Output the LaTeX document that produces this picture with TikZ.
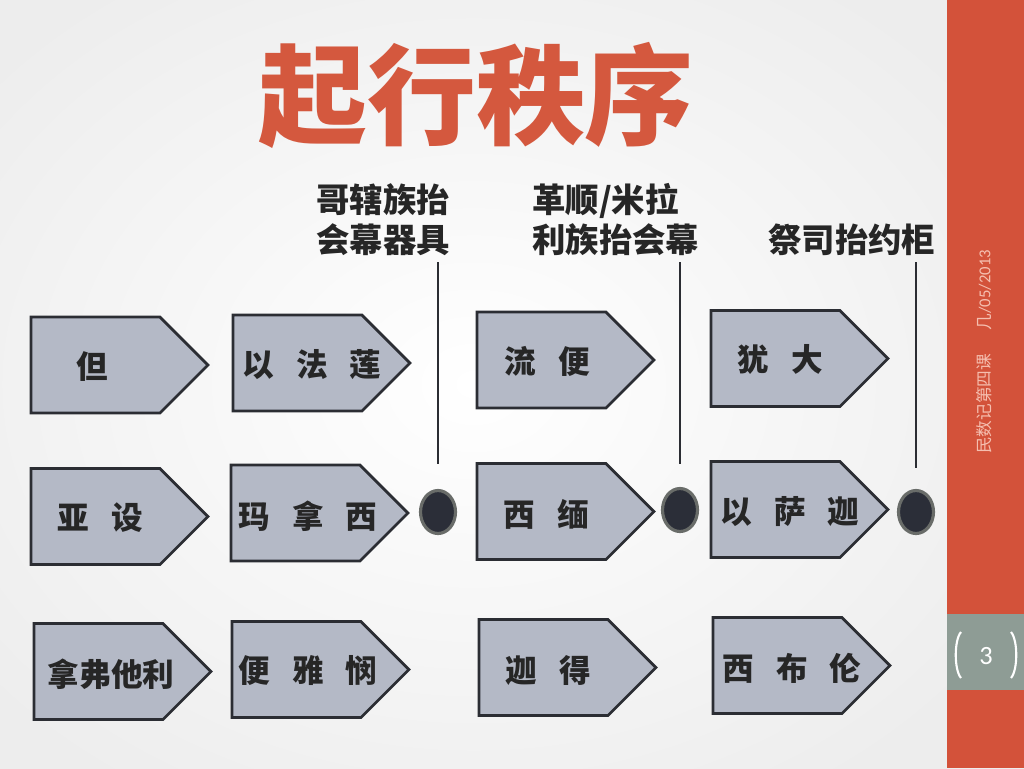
\documentclass[tikz,border=0pt]{standalone}
\usepackage{fontspec}
\setmainfont{Carlito}
\newfontfamily\cjk{Noto Sans CJK SC}
\usetikzlibrary{shapes.symbols,shapes.geometric}
\definecolor{slidered}{RGB}{211,82,58}
\definecolor{slidegray}{RGB}{142,156,149}
\definecolor{titlered}{RGB}{212,88,62}
\definecolor{boxfill}{RGB}{180,185,198}
\definecolor{boxline}{RGB}{43,45,51}
\definecolor{dotfill}{RGB}{43,46,56}
\definecolor{dotline}{RGB}{105,108,105}
\definecolor{sidetext}{RGB}{245,190,175}
\newcommand{\gp}{\hspace{0.7em}}
\begin{document}
\begin{tikzpicture}[x=0.02cm, y=-0.02cm,
    tribe/.style={signal, signal to=east, signal pointer angle=90, draw=boxline, line width=1.6pt,
      fill=boxfill, minimum width=3.54cm, minimum height=1.92cm, inner sep=0pt},
    tribetext/.style={font=\cjk\bfseries\fontsize{18}{20}\selectfont, text=black!85},
    camp/.style={font=\cjk\bfseries\fontsize{19}{23}\selectfont, align=left, text=black!85, anchor=north west, inner sep=0pt},
    stop/.style={ellipse, draw=dotline, line width=1.8pt, fill=dotfill, minimum width=0.7cm, minimum height=0.86cm, inner sep=0pt},
    pole/.style={draw=boxline, line width=1.4pt}]
    % Background
    \useasboundingbox (0,0) rectangle (1024,768);
    \shade[inner color=white, outer color=black!7] (-150,-100) rectangle (1097,868);
    \fill[slidered] (947,0) rectangle (1024,768);
    \fill[slidegray] (947,614) rectangle (1024,690);
    \draw[white, line width=1.2pt] (961,632) .. controls (954,640) and (954,670) .. (961,678);
    \draw[white, line width=1.2pt] (1011,632) .. controls (1018,640) and (1018,670) .. (1011,678);
    \node (page) [text=white, font=\fontsize{15}{17}\selectfont] at (986,656) {3};
    \node (date) [rotate=90, text=sidetext, font=\fontsize{9.5}{11}\selectfont] at (984,352)
      {{\cjk 民数记第四课}\hspace{1.4em}{\cjk 几}/05/2013};

    % Title
    \node (title) [text=titlered, font=\cjk\bfseries\fontsize{62}{70}\selectfont] at (476,95) {起行秩序};

    % Nodes
    \node (dan) [tribe] at (95.5,365) {};
    \node (ephraim) [tribe] at (297.5,363) {};
    \node (reuben) [tribe] at (541.5,360) {};
    \node (judah) [tribe] at (775.5,358.5) {};
    \node (asher) [tribe] at (95.5,516.5) {};
    \node (manasseh) [tribe] at (295.5,513) {};
    \node (simeon) [tribe] at (541.5,511.5) {};
    \node (issachar) [tribe] at (775.5,509.5) {};
    \node (naphtali) [tribe] at (98.5,671.5) {};
    \node (benjamin) [tribe] at (296.5,669.5) {};
    \node (gad) [tribe] at (543.5,667.5) {};
    \node (zebulun) [tribe] at (777.5,665.5) {};

    \node (dan-t) [tribetext] at (92,367) {但};
    \node (ephraim-t) [tribetext] at (312,365) {以\gp 法\gp 莲};
    \node (reuben-t) [tribetext] at (547,361) {流\gp 便};
    \node (judah-t) [tribetext] at (780,359) {犹\gp 大};
    \node (asher-t) [tribetext] at (100,518) {亚\gp 设};
    \node (manasseh-t) [tribetext] at (308,516) {玛\gp 拿\gp 西};
    \node (simeon-t) [tribetext] at (546,514) {西\gp 缅};
    \node (issachar-t) [tribetext] at (790,512) {以\gp 萨\gp 迦};
    \node (naphtali-t) [tribetext] at (111,674) {拿弗他利};
    \node (benjamin-t) [tribetext] at (308,670) {便\gp 雅\gp 悯};
    \node (gad-t) [tribetext] at (548,670) {迦\gp 得};
    \node (zebulun-t) [tribetext] at (792,668) {西\gp 布\gp 伦};

    \node (gershon) [camp] at (316,183) {哥辖族抬\\会幕器具};
    \node (merari) [camp] at (532,183) {革顺/米拉\\利族抬会幕};
    \node (priests) [camp] at (768,224) {祭司抬约柜};

    \node (stop1) [stop] at (438,512) {};
    \node (stop2) [stop] at (680,510) {};
    \node (stop3) [stop] at (916,512) {};

    % Edges
    \draw[pole] (stop1 |- 0,262) -- ([yshift=0.5cm]stop1.north);
    \draw[pole] (stop2 |- 0,262) -- ([yshift=0.45cm]stop2.north);
    \draw[pole] (stop3 |- 0,262) -- ([yshift=0.42cm]stop3.north);
\end{tikzpicture}
\end{document}
